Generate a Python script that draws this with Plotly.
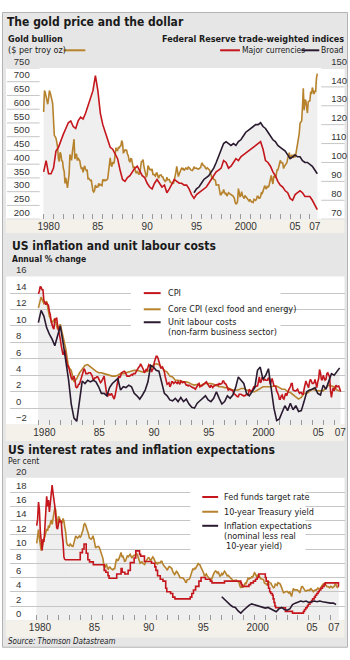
import plotly.graph_objects as go

# ---------------------------------------------------------------- data
YEARS = list(range(1980, 2008))
X_LABELS = ["1980", "85", "90", "95", "2000", "05", "07"]
X_LABEL_YEARS = [1980, 1985, 1990, 1995, 2000, 2005, 2007]

GOLD_TICKS = [200, 250, 300, 350, 400, 450, 500, 550, 600, 650, 700, 750]
DOLLAR_TICKS = [70, 80, 90, 100, 110, 120, 130, 140, 150]
P2_TICKS = [-2, 0, 2, 4, 6, 8, 10, 12, 14, 16]
P3_TICKS = [0, 2, 4, 6, 8, 10, 12, 14, 16, 18, 20]

# Gold bullion, $ per troy oz, monthly from Jan 1980
gold_start = 1980.0
gold = [
    590, 668, 660, 640, 625, 618, 640, 668, 660, 650, 635, 620,
    560, 505, 500, 495, 480, 461, 420, 410, 443, 437, 413, 410,
    384, 374, 330, 350, 333, 314, 339, 364, 435, 422, 414, 445,
    480, 491, 419, 432, 438, 413, 423, 416, 412, 394, 382, 388,
    370, 386, 394, 381, 377, 378, 347, 348, 341, 340, 341, 320,
    303, 299, 304, 324, 316, 317, 317, 330, 323, 326, 325, 322,
    345, 338, 345, 340, 342, 343, 348, 376, 418, 423, 398, 391,
    408, 401, 409, 438, 460, 450, 450, 461, 460, 465, 467, 486,
    477, 442, 444, 452, 451, 451, 437, 431, 413, 407, 420, 419,
    404, 388, 390, 384, 371, 367, 375, 365, 362, 367, 392, 409,
    410, 417, 393, 374, 369, 352, 362, 395, 389, 381, 381, 378,
    383, 363, 363, 358, 357, 367, 368, 356, 349, 359, 360, 361,
    354, 354, 345, 338, 337, 341, 353, 343, 345, 344, 335, 334,
    329, 330, 330, 342, 367, 372, 392, 379, 355, 364, 374, 383,
    387, 382, 384, 377, 381, 386, 385, 380, 391, 389, 384, 379,
    379, 377, 382, 391, 385, 387, 386, 383, 383, 383, 386, 387,
    400, 405, 396, 393, 392, 385, 383, 387, 383, 381, 378, 369,
    355, 347, 352, 344, 344, 341, 324, 324, 323, 325, 306, 289,
    289, 297, 296, 308, 299, 292, 293, 284, 289, 296, 294, 291,
    287, 287, 286, 282, 277, 262, 256, 257, 265, 311, 293, 283,
    285, 300, 286, 280, 275, 286, 282, 274, 273, 270, 266, 272,
    266, 262, 263, 261, 272, 270, 268, 273, 283, 283, 276, 276,
    282, 296, 294, 302, 314, 322, 314, 310, 319, 317, 319, 333,
    356, 359, 340, 328, 355, 356, 351, 360, 379, 379, 389, 407,
    414, 405, 406, 404, 384, 392, 398, 400, 405, 420, 439, 442,
    424, 423, 434, 429, 423, 437, 425, 438, 456, 470, 476, 510,
    549, 555, 557, 610, 676, 596, 633, 632, 598, 586, 627, 629,
    631, 664, 655, 679, 667, 655, 665, 665, 712, 729,
]

# Fed trade-weighted dollar, major currencies, quarterly from 1980 Q1
major_start = 1980.0
major = [
    95, 101, 94, 94, 97, 106, 108, 112, 115, 118, 121, 122,
    119, 118, 122, 124, 123, 126, 130, 134, 138, 146, 138, 126,
    120, 116, 112, 108, 107, 104, 102, 96, 91, 90, 92, 93,
    95, 97, 98, 95, 93, 92, 89, 87, 86, 89, 91, 89,
    87, 88, 84, 86, 89, 91, 90, 89, 89, 88, 88, 86,
    83, 81, 83, 84, 85, 86, 87, 89, 91, 93, 95, 96,
    97, 101, 100, 97, 98, 100, 102, 101, 103, 104, 105, 106,
    107, 108, 109, 110, 111, 107, 101, 100, 98, 95, 93, 90,
    88, 87, 85, 84, 81, 80, 83, 84, 85, 84, 82, 82,
    82, 80, 77, 75,
]

# Fed trade-weighted dollar, broad, quarterly from 1995 Q2
broad_start = 1995.25
broad = [
    84, 86, 87, 89, 91, 92, 93, 95, 97, 100, 103,
    107, 110, 111, 110, 109, 110, 109, 111, 112, 114, 116, 117,
    118, 119, 120, 120, 121, 119, 118, 116, 114, 112, 111, 109,
    108, 107, 106, 104, 102, 103, 104, 103, 103, 101, 100, 100,
    99, 98, 96, 94,
]

# CPI, annual % change, monthly from Jan 1980
cpi_start = 1980.0
cpi = [
    13.9, 14.2, 14.8, 14.7, 14.4, 14.4, 13.1, 12.9, 12.6, 12.8, 12.6, 12.5,
    11.8, 11.4, 10.5, 10.0, 9.8, 9.6, 10.8, 10.8, 11.0, 10.1, 9.6, 8.9,
    8.4, 7.6, 6.8, 6.5, 6.7, 7.1, 6.4, 5.9, 5.0, 5.1, 4.6, 3.8,
    3.7, 3.5, 3.6, 3.9, 3.5, 2.6, 2.5, 2.6, 2.9, 2.9, 3.3, 3.8,
    4.2, 4.6, 4.8, 4.6, 4.2, 4.2, 4.2, 4.3, 4.3, 4.3, 4.1, 3.9,
    3.5, 3.5, 3.7, 3.7, 3.8, 3.8, 3.6, 3.3, 3.1, 3.2, 3.5, 3.8,
    3.9, 3.1, 2.2, 1.6, 1.5, 1.8, 1.6, 1.6, 1.8, 1.5, 1.3, 1.1,
    1.5, 2.1, 3.0, 3.8, 3.9, 3.7, 3.9, 4.3, 4.4, 4.5, 4.5, 4.4,
    4.0, 3.9, 3.9, 3.9, 3.9, 4.0, 4.1, 4.0, 4.2, 4.2, 4.2, 4.4,
    4.7, 4.8, 5.0, 5.1, 5.4, 5.2, 5.0, 4.7, 4.3, 4.5, 4.7, 4.6,
    5.2, 5.3, 5.2, 4.7, 4.4, 4.7, 4.8, 5.6, 6.2, 6.3, 6.3, 6.1,
    5.7, 5.3, 4.9, 4.9, 5.0, 4.7, 4.4, 3.8, 3.4, 2.9, 3.0, 3.1,
    2.6, 2.8, 3.2, 3.2, 3.0, 3.1, 3.2, 3.1, 3.0, 3.2, 3.0, 2.9,
    3.3, 3.2, 3.1, 3.2, 3.2, 3.0, 2.8, 2.8, 2.7, 2.8, 2.7, 2.7,
    2.5, 2.5, 2.5, 2.4, 2.3, 2.5, 2.8, 2.9, 3.0, 2.6, 2.7, 2.7,
    2.8, 2.9, 2.9, 3.1, 3.2, 3.0, 2.8, 2.6, 2.5, 2.8, 2.6, 2.5,
    2.7, 2.7, 2.8, 2.9, 2.9, 2.8, 3.0, 2.9, 3.0, 3.0, 3.3, 3.3,
    3.0, 3.0, 2.8, 2.5, 2.2, 2.3, 2.2, 2.2, 2.2, 2.1, 1.8, 1.7,
    1.6, 1.4, 1.4, 1.4, 1.7, 1.7, 1.7, 1.6, 1.5, 1.5, 1.5, 1.6,
    1.7, 1.6, 1.7, 2.3, 2.1, 2.0, 2.1, 2.3, 2.6, 2.6, 2.6, 2.7,
    2.7, 3.2, 3.8, 3.1, 3.2, 3.7, 3.7, 3.4, 3.5, 3.4, 3.4, 3.4,
    3.7, 3.5, 2.9, 3.3, 3.6, 3.2, 2.7, 2.7, 2.6, 2.1, 1.9, 1.6,
    1.1, 1.1, 1.5, 1.6, 1.2, 1.1, 1.5, 1.8, 1.5, 2.0, 2.2, 2.4,
    2.6, 3.0, 3.0, 2.2, 2.1, 2.1, 2.1, 2.2, 2.3, 2.0, 1.8, 1.9,
    1.9, 1.7, 1.7, 2.3, 3.1, 3.3, 3.0, 2.7, 2.5, 3.2, 3.5, 3.3,
    3.0, 3.0, 3.1, 3.5, 2.8, 2.5, 3.2, 3.6, 4.7, 4.3, 3.5, 3.4,
    4.0, 3.6, 3.4, 3.5, 4.2, 4.3, 4.1, 3.8, 2.1, 1.3, 2.0, 2.5,
    2.1, 2.4, 2.8, 2.6, 2.7, 2.7, 2.4, 2.0,
]

# Core CPI (excl food and energy), annual % change, quarterly from 1980 Q1
core_start = 1980.0
core = [
    12.2, 13.5, 12.7, 13.0, 11.2, 10.4, 10.9, 9.6, 10.2, 8.8, 7.2, 5.0,
    4.6, 3.2, 3.6, 4.3, 4.8, 5.2, 5.3, 5.0, 4.7, 4.5, 4.3, 4.3,
    4.2, 4.1, 4.0, 3.9, 3.9, 4.0, 4.2, 4.2, 4.3, 4.4, 4.5, 4.6,
    4.6, 4.5, 4.4, 4.4, 4.5, 4.8, 5.3, 5.4, 5.3, 5.0, 4.6, 4.4,
    3.9, 3.8, 3.4, 3.4, 3.3, 3.2, 3.2, 3.1, 2.9, 2.8, 2.9, 2.7,
    2.9, 3.0, 3.0, 3.0, 2.9, 2.7, 2.6, 2.6, 2.5, 2.5, 2.3, 2.2,
    2.2, 2.2, 2.4, 2.4, 2.2, 2.1, 2.0, 2.0, 2.2, 2.4, 2.6, 2.6,
    2.6, 2.6, 2.7, 2.7, 2.5, 2.3, 2.3, 2.0, 1.9, 1.6, 1.3, 1.1,
    1.3, 1.8, 1.8, 2.1, 2.3, 2.2, 2.1, 2.1, 2.1, 2.5, 2.8, 2.7,
    2.6, 2.2, 2.1,
]

# Unit labour costs (non-farm business), annual % change, quarterly from 1980 Q1
ulc_start = 1980.0
ulc = [
    10.4, 11.9, 11.2, 9.8, 9.0, 8.4, 7.6, 8.8, 10.0, 8.0, 6.0, 3.5,
    0.5, -1.2, -1.6, 1.0, 3.3, 3.0, 3.4, 3.2, 3.4, 3.2, 2.6, 1.8,
    1.8, 1.5, 2.5, 3.0, 3.3, 3.6, 2.2, 2.6, 2.5, 2.8, 2.6, 1.8,
    1.5, 1.1, 1.6, 2.2, 3.2, 5.2, 5.0, 4.6, 4.5, 3.0, 1.8, 1.5,
    1.0, 0.9, 1.2, 0.8, 1.3, 0.8, 1.1, 0.5, 0.1, 0.0, 0.6, 0.9,
    1.2, 1.5, 1.0, 0.8, 1.2, 2.0, 1.2, 0.5, 0.8, 1.5, 1.2, 1.6,
    2.5, 3.8, 3.4, 3.0, 1.8, 1.5, 2.0, 2.5, 4.6, 5.0, 3.5, 4.0,
    4.8, 2.5, 0.0, -1.5, -1.3, -0.5, 0.3, -0.3, 0.6, -0.2, 0.3, -0.4,
    -0.3, 0.8, 2.0, 2.2, 2.3, 2.5, 1.8, 1.6, 2.8, 2.3, 3.2, 4.2,
    4.0, 4.5, 4.9,
]

# 10-year Treasury yield, %, monthly from Jan 1980
tsy_start = 1980.0
tsy = [
    10.80, 12.41, 12.75, 11.47, 10.18, 9.78, 10.25, 11.10, 11.51, 11.75, 12.68, 12.84,
    12.57, 13.19, 13.12, 13.68, 14.10, 13.47, 14.28, 14.94, 15.80, 15.50, 13.39, 13.72,
    14.59, 14.43, 13.86, 13.87, 13.62, 14.30, 13.95, 13.06, 12.34, 10.91, 10.55, 10.54,
    10.46, 10.72, 10.51, 10.40, 10.38, 10.85, 11.38, 11.85, 11.65, 11.54, 11.69, 11.83,
    11.67, 11.84, 12.32, 12.63, 13.41, 13.56, 13.36, 12.72, 12.52, 12.16, 11.57, 11.50,
    11.38, 11.51, 11.86, 11.43, 10.85, 10.16, 10.31, 10.33, 10.37, 10.24, 9.78, 9.26,
    9.19, 8.70, 7.78, 7.30, 7.71, 7.80, 7.30, 7.17, 7.45, 7.43, 7.25, 7.11,
    7.08, 7.25, 7.25, 8.02, 8.61, 8.40, 8.45, 8.76, 9.42, 9.52, 8.86, 8.99,
    8.67, 8.21, 8.37, 8.72, 9.09, 8.92, 9.06, 9.26, 8.98, 8.80, 8.96, 9.11,
    9.09, 9.17, 9.36, 9.18, 8.86, 8.28, 8.02, 8.11, 8.19, 8.01, 7.87, 7.84,
    8.21, 8.47, 8.59, 8.79, 8.76, 8.48, 8.47, 8.75, 8.89, 8.72, 8.39, 8.08,
    8.09, 7.85, 8.11, 8.04, 8.07, 8.28, 8.27, 7.90, 7.65, 7.53, 7.42, 7.09,
    7.03, 7.34, 7.54, 7.48, 7.39, 7.26, 6.84, 6.59, 6.42, 6.59, 6.87, 6.77,
    6.60, 6.26, 5.98, 5.97, 6.04, 5.96, 5.81, 5.68, 5.36, 5.33, 5.72, 5.77,
    5.75, 5.97, 6.48, 6.97, 7.18, 7.10, 7.30, 7.24, 7.46, 7.74, 7.96, 7.81,
    7.78, 7.47, 7.20, 7.06, 6.63, 6.17, 6.28, 6.49, 6.20, 6.04, 5.93, 5.71,
    5.65, 5.81, 6.27, 6.51, 6.74, 6.91, 6.87, 6.64, 6.83, 6.53, 6.20, 6.30,
    6.58, 6.42, 6.69, 6.89, 6.71, 6.49, 6.22, 6.30, 6.21, 6.03, 5.88, 5.81,
    5.54, 5.57, 5.65, 5.64, 5.65, 5.50, 5.46, 5.34, 4.81, 4.53, 4.83, 4.65,
    4.72, 5.00, 5.23, 5.18, 5.54, 5.90, 5.79, 5.94, 5.92, 6.11, 6.03, 6.28,
    6.66, 6.52, 6.26, 5.99, 6.44, 6.10, 6.05, 5.83, 5.80, 5.74, 5.72, 5.24,
    5.16, 5.10, 4.89, 5.14, 5.39, 5.28, 5.24, 4.97, 4.73, 4.57, 4.65, 5.09,
    5.04, 4.91, 5.28, 5.21, 5.16, 4.93, 4.65, 4.26, 3.87, 3.94, 4.05, 4.03,
    4.05, 3.90, 3.81, 3.96, 3.57, 3.33, 3.98, 4.45, 4.27, 4.29, 4.30, 4.27,
    4.15, 4.08, 3.83, 4.35, 4.72, 4.73, 4.50, 4.28, 4.13, 4.10, 4.19, 4.23,
    4.22, 4.17, 4.50, 4.34, 4.14, 4.00, 4.18, 4.26, 4.20, 4.46, 4.54, 4.47,
    4.42, 4.57, 4.72, 4.99, 5.11, 5.11, 5.09, 4.88, 4.72, 4.73, 4.60, 4.56,
    4.76, 4.72, 4.56, 4.69, 4.75, 5.10, 5.00, 4.67, 4.52,
]

# Fed funds rate: monthly Jan 1980 - Aug 1982, then target-rate steps
ff_early_start = 1980.0
ff_early = [
    13.3, 14.2, 16.6, 15.5, 12.5, 10.5, 9.8, 11.4, 11.0, 13.0, 15.5, 17.4,
    16.0, 16.9, 15.2, 16.5, 18.2, 19.0, 17.9, 17.2, 16.0, 14.6, 13.0, 12.8,
    13.7, 14.2, 13.8, 14.0, 12.1, 11.0, 8.9, 8.5,
]
ff_dates = [
    1982.583, 1984.0, 1984.2, 1984.35, 1984.55, 1984.7, 1984.85, 1985.2,
    1986.2, 1986.35, 1986.55, 1986.65, 1987.35, 1987.75, 1987.85, 1988.1,
    1988.4, 1988.6, 1988.95, 1989.1, 1989.45, 1989.55, 1989.9, 1990.55,
    1990.85, 1990.95, 1991.1, 1991.35, 1991.6, 1991.85, 1991.95, 1992.3,
    1992.5, 1992.7, 1994.1, 1994.25, 1994.4, 1994.6, 1994.9, 1995.1,
    1995.5, 1995.95, 1996.1, 1997.25, 1998.75, 1998.8, 1998.9, 1999.5,
    1999.65, 1999.9, 2000.1, 2000.25, 2000.4, 2001.0, 2001.08, 2001.25,
    2001.3, 2001.4, 2001.5, 2001.65, 2001.72, 2001.8, 2001.88, 2001.95,
    2002.85, 2003.5, 2004.5, 2004.6, 2004.72, 2004.85, 2004.95, 2005.1,
    2005.25, 2005.35, 2005.5, 2005.6, 2005.72, 2005.85, 2005.95, 2006.1,
    2006.25, 2006.4, 2006.5, 2007.72, 2007.75,
]
ff_levels = [
    8.5, 9.5, 10.0, 10.7, 9.4, 8.5, 8.2, 7.8,
    7.0, 6.75, 6.25, 5.9, 6.5, 7.25, 6.75, 6.5,
    7.0, 8.1, 8.75, 9.75, 9.25, 9.0, 8.25, 8.0,
    7.5, 7.0, 6.25, 5.75, 5.5, 4.5, 4.0, 3.75,
    3.25, 3.0, 3.25, 3.75, 4.25, 4.75, 5.5, 6.0,
    5.75, 5.5, 5.25, 5.5, 5.25, 5.0, 4.75, 5.0,
    5.25, 5.5, 5.75, 6.0, 6.5, 6.0, 5.5, 5.0,
    4.5, 4.0, 3.75, 3.5, 3.0, 2.5, 2.0, 1.75,
    1.25, 1.0, 1.25, 1.5, 1.75, 2.0, 2.25, 2.5,
    2.75, 3.0, 3.25, 3.5, 3.75, 4.0, 4.25, 4.5,
    4.75, 5.0, 5.25, 4.75, 4.75,
]

# Inflation expectations (nominal less real 10-year yield), quarterly from 1997 Q1
ie_start = 1997.0
infl_exp = [
    3.3, 2.9, 2.6, 2.2, 1.9, 1.8, 1.3, 1.0, 1.4, 1.8, 2.1, 2.3,
    2.2, 2.0, 1.9, 1.8, 1.7, 1.8, 1.6, 1.3, 1.2, 1.6, 1.8, 1.5,
    1.4, 1.6, 2.2, 2.4, 2.5, 2.7, 2.6, 2.7, 2.5, 2.6, 2.7, 2.6,
    2.7, 2.6, 2.5, 2.4, 2.4, 2.4, 2.2,
]

# ---------------------------------------------------------------- style
W, H = 350, 660
RED = "#c4161c"
GOLD = "#b7822c"
DARK = "#2a1b30"
GRID = "#c6c6c6"
FILL = "#efefef"
BG = "#e6e6e6"
BAND = "#f3f1ea"
TXT = "#1a1a1a"
NARROW = "Liberation Sans Narrow, DejaVu Sans Condensed, Arial Narrow, sans-serif"
NUM = "Liberation Sans, Arial, sans-serif"
LW = 1.6


def monthly(start, vals):
    return [start + i / 12 for i in range(len(vals))]


def quarterly(start, vals):
    return [start + i / 4 for i in range(len(vals))]


def X(p):
    return p / W


def Y(p):
    return 1 - p / H


def xrange_for(left_px, right_px, px_1980, px_per_year):
    return [1980 - (px_1980 - left_px) / px_per_year,
            1980 + (right_px - px_1980) / px_per_year]


# panel geometry (pixels)
P1 = dict(top=57, bot=211, left=38, right=322)
P2 = dict(top=269.5, bot=420.25, left=8, right=346)
P3 = dict(top=474.5, bot=619.5, left=8, right=346)
P1_XR = xrange_for(P1["left"], P1["right"], 42, 9.946)
P2_XR = xrange_for(P2["left"], P2["right"], 36.7, 11.05)
P3_XR = xrange_for(P3["left"], P3["right"], 35.0, 10.98)
P2_MIN, P2_MAX = -2, 16

fig = go.Figure()


def line(x, y, xa, ya, color, name, shape="linear"):
    fig.add_trace(go.Scatter(x=x, y=y, xaxis=xa, yaxis=ya, mode="lines", name=name,
                             line=dict(color=color, width=LW, shape=shape),
                             showlegend=False, hoverinfo="skip"))


def area(x, y, xa, ya, shape="linear"):
    fig.add_trace(go.Scatter(x=x, y=y, xaxis=xa, yaxis=ya, mode="lines", fill="tozeroy",
                             fillcolor=FILL, line=dict(width=0, shape=shape),
                             showlegend=False, hoverinfo="skip"))


xg = monthly(gold_start, gold)
xm = quarterly(major_start, major)
xb = quarterly(broad_start, broad)
xc = monthly(cpi_start, cpi)
xcore = quarterly(core_start, core)
xu = quarterly(ulc_start, ulc)
xt = monthly(tsy_start, tsy)
xfe = monthly(ff_early_start, ff_early)
xie = quarterly(ie_start, infl_exp)

# ---- panel 1: shading then lines
area(xg, gold, "x", "y")
area(xm, major, "x", "y2")
area(xb, broad, "x", "y2")
line(xg, gold, "x2", "y3", GOLD, "Gold bullion ($ per troy oz)")
line(xm, major, "x2", "y4", RED, "Major currencies")
line(xb, broad, "x2", "y4", DARK, "Broad")

# ---- panel 2
area(xc, [v - P2_MIN for v in cpi], "x3", "y5")
area(xcore, [v - P2_MIN for v in core], "x3", "y5")
area(xu, [v - P2_MIN for v in ulc], "x3", "y5")
line(xcore, core, "x4", "y6", GOLD, "Core CPI (excl food and energy)")
line(xc, cpi, "x4", "y6", RED, "CPI")
line(xu, ulc, "x4", "y6", DARK, "Unit labour costs")

# ---- panel 3
area(xt, tsy, "x5", "y7")
area(xfe, ff_early, "x5", "y7")
area(ff_dates, ff_levels, "x5", "y7", shape="hv")
area(xie, infl_exp, "x5", "y7")
line(xt, tsy, "x6", "y8", GOLD, "10-year Treasury yield")
line(xfe, ff_early, "x6", "y8", RED, "Fed funds target rate")
line(ff_dates, ff_levels, "x6", "y8", RED, "Fed funds target rate", shape="hv")
line(xie, infl_exp, "x6", "y8", DARK, "Inflation expectations")

# ---------------------------------------------------------------- axes
tickfont = dict(family=NUM, size=9.5, color="#333333")


def hidden_x(P, rng, anchor):
    return dict(domain=[X(P["left"]), X(P["right"])], range=rng, visible=False,
                anchor=anchor, fixedrange=True)


def hidden_y(P, rng, anchor, overlaying=None):
    d = dict(domain=[Y(P["bot"]), Y(P["top"])], range=rng, visible=False,
             anchor=anchor, fixedrange=True)
    if overlaying:
        d["overlaying"] = overlaying
    return d


def main_x(P, rng, anchor, offset):
    return dict(domain=[X(P["left"]), X(P["right"])], range=rng, anchor=anchor,
                showgrid=False, zeroline=False, showline=False,
                tickmode="array", tickvals=[y + offset for y in X_LABEL_YEARS],
                ticktext=X_LABELS, ticks="", tickfont=dict(family=NUM, size=10, color="#333333"),
                minor=dict(tickmode="array", tickvals=YEARS, ticks="inside",
                           ticklen=5, tickwidth=1, tickcolor="#9a9a9a", showgrid=False),
                fixedrange=True)


layout = dict(
    width=W, height=H, margin=dict(l=0, r=0, t=0, b=0),
    paper_bgcolor="white", plot_bgcolor="rgba(0,0,0,0)",
    showlegend=False, hovermode=False,
    xaxis=hidden_x(P1, P1_XR, "y"),
    yaxis=hidden_y(P1, [200, 750], "x"),
    yaxis2=hidden_y(P1, [70, 150], "x", overlaying="y"),
    xaxis2=main_x(P1, P1_XR, "y3", 0.5),
    yaxis3=dict(domain=[Y(P1["bot"]), Y(P1["top"])], range=[200, 750], anchor="x2",
                tickmode="array", tickvals=GOLD_TICKS, ticks="", showgrid=False,
                zeroline=False, showline=False, ticklabelposition="outside top",
                ticklabelstandoff=9, tickfont=tickfont, fixedrange=True),
    yaxis4=dict(domain=[Y(P1["bot"]), Y(P1["top"])], range=[70, 150], anchor="x2",
                overlaying="y3", side="right",
                tickmode="array", tickvals=DOLLAR_TICKS, ticks="", showgrid=False,
                zeroline=False, showline=False, ticklabelposition="outside top",
                ticklabelstandoff=9, tickfont=tickfont, fixedrange=True),
    xaxis3=hidden_x(P2, P2_XR, "y5"),
    yaxis5=hidden_y(P2, [0, P2_MAX - P2_MIN], "x3"),
    xaxis4=main_x(P2, P2_XR, "y6", 0.55),
    yaxis6=dict(domain=[Y(P2["bot"]), Y(P2["top"])], range=[P2_MIN, P2_MAX], anchor="x4",
                tickmode="array", tickvals=P2_TICKS, ticks="", showgrid=True,
                gridcolor=GRID, gridwidth=1, zeroline=False, showline=False,
                ticklabelposition="inside top", ticklabeloverflow="allow",
                ticklabelstandoff=3, tickfont=tickfont, fixedrange=True),
    xaxis5=hidden_x(P3, P3_XR, "y7"),
    yaxis7=hidden_y(P3, [0, 20], "x5"),
    xaxis6=main_x(P3, P3_XR, "y8", 0.3),
    yaxis8=dict(domain=[Y(P3["bot"]), Y(P3["top"])], range=[0, 20], anchor="x6",
                tickmode="array", tickvals=P3_TICKS, ticks="", showgrid=True,
                gridcolor=GRID, gridwidth=1, zeroline=False, showline=False,
                ticklabelposition="inside top", ticklabeloverflow="allow",
                ticklabelstandoff=3, tickfont=tickfont, fixedrange=True),
)

# ---------------------------------------------------------------- decorations
shapes = []


def rect(x0, y0, x1, y1, fill, layer="below", line=None):
    shapes.append(dict(type="rect", xref="paper", yref="paper",
                       x0=X(x0), x1=X(x1), y0=Y(y0), y1=Y(y1), fillcolor=fill,
                       line=line or dict(width=0), layer=layer))


def seg(x0, x1, y, color, width=2, layer="above"):
    shapes.append(dict(type="line", xref="paper", yref="paper",
                       x0=X(x0), x1=X(x1), y0=Y(y), y1=Y(y),
                       line=dict(color=color, width=width), layer=layer))


rect(0.5, 0.5, 348.5, 647, BG, line=dict(color="#b3b3b3", width=1))
for P, band_bot in ((P1, 225), (P2, 437), (P3, 637)):
    rect(4, P["top"], 345.5, P["bot"], "white")
    rect(4, P["bot"], 345.5, band_bot, BAND)

# short gridline stubs in panel 1
for v in GOLD_TICKS:
    shapes.append(dict(type="line", xref="paper", yref="y3", x0=X(5), x1=X(38),
                       y0=v, y1=v, line=dict(color=GRID, width=1), layer="below"))
for v in DOLLAR_TICKS:
    shapes.append(dict(type="line", xref="paper", yref="y4", x0=X(322), x1=X(345.5),
                       y0=v, y1=v, line=dict(color=GRID, width=1), layer="below"))

# legend boxes
rect(130, 277, 281, 331.5, "white", layer="above")
rect(190, 484, 306, 552, "white", layer="above")

# legend keys
seg(62, 84, 39, GOLD)
seg(220, 240, 39, RED)
seg(302, 320, 39, DARK)
seg(143, 160, 286.3, RED)
seg(143, 160, 302.8, GOLD)
seg(143, 160, 316, DARK)
seg(202, 218, 494, RED)
seg(202, 218, 509, GOLD)
seg(202, 218, 523.3, DARK)

annotations = []


def ann(x, y, text, size=9, anchor="left", family=NARROW, color=TXT):
    annotations.append(dict(x=X(x), y=Y(y), xref="paper", yref="paper", text=text,
                            showarrow=False, xanchor=anchor, yanchor="middle",
                            font=dict(size=size, family=family, color=color)))


ann(3, 10, "<b>The gold price and the dollar</b>", size=12)
ann(4, 27, "<b>Gold bullion</b>", size=9)
ann(4, 39, "($ per troy oz)", size=9)
ann(347, 27, "<b>Federal Reserve trade-weighted indices</b>", size=9, anchor="right")
ann(240, 39, "Major currencies", size=8.5)
ann(347, 39, "Broad", size=8.5, anchor="right")

ann(8, 238, "<b>US inflation and unit labour costs</b>", size=12)
ann(8, 252, "<b>Annual % change</b>", size=8.5)
ann(165, 286.3, "CPI", size=9)
ann(165, 302.8, "Core CPI (excl food and energy)", size=9)
ann(165, 315.5, "Unit labour costs", size=9)
ann(165, 326, "(non-farm business sector)", size=9)

ann(4, 446, "<b>US interest rates and inflation expectations</b>", size=12)
ann(4, 457, "Per cent", size=8.5)
ann(222, 494, "Fed funds target rate", size=9)
ann(222, 509, "10-year Treasury yield", size=9)
ann(222, 523.3, "Inflation expectations", size=9)
ann(222, 533.5, "(nominal less real", size=9)
ann(224, 544, "10-year yield)", size=9)

ann(4, 641, "<i>Source: Thomson Datastream</i>", size=8)

layout["shapes"] = shapes
layout["annotations"] = annotations
fig.update_layout(**layout)
fig.write_html("out.html")
